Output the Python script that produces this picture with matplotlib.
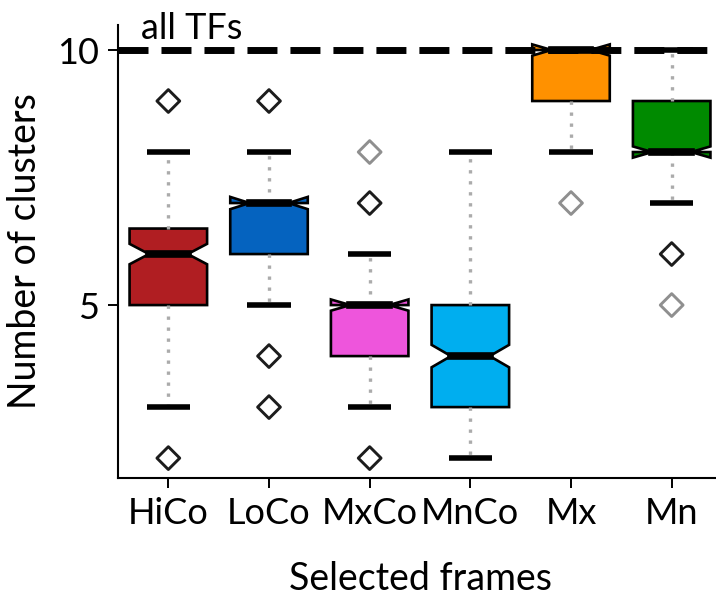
import matplotlib
matplotlib.use("Agg")
import matplotlib.pyplot as plt

plt.rcParams["font.family"] = ["Lato", "DejaVu Sans"]

# Summary statistics per frame selection
categories = ["HiCo", "LoCo", "MxCo", "MnCo", "Mx", "Mn"]
q1 = [5, 6, 4, 3, 9, 8]
medians = [6, 7, 5, 4, 10, 8]
q3 = [6.5, 7, 5, 5, 10, 9]
whisker_low = [3, 5, 3, 2, 8, 7]
whisker_high = [8, 8, 6, 8, 10, 10]
notch_low = [5.8, 6.88, 4.89, 3.78, 9.89, 7.89]
notch_high = [6.2, 7.12, 5.11, 4.22, 10.11, 8.11]
box_colors = ["#B01E22", "#0563BF", "#EE55DC", "#00AEEF", "#FF9100", "#008A00"]

# Outliers: (category index, value, edge colour)
outlier_group = [0, 0, 1, 1, 1, 2, 2, 2, 4, 5, 5]
outlier_value = [9, 2, 9, 4, 3, 8, 7, 2, 7, 6, 5]
outlier_color = ["#1c1c1c", "#1c1c1c", "#1c1c1c", "#1c1c1c", "#1c1c1c",
                 "#8f8f8f", "#1c1c1c", "#1c1c1c", "#8f8f8f", "#1c1c1c", "#8f8f8f"]

total_tfs = 10

fig = plt.figure(figsize=(7.16, 6.04), dpi=100)
ax = fig.add_axes([0.1648, 0.2086, 0.8436, 0.75])

stats = []
for i, name in enumerate(categories):
    stats.append(dict(label=name, q1=q1[i], med=medians[i], q3=q3[i],
                      whislo=whisker_low[i], whishi=whisker_high[i],
                      cilo=notch_low[i], cihi=notch_high[i], fliers=[]))

positions = list(range(1, len(categories) + 1))
bp = ax.bxp(stats, positions=positions, widths=0.77, capwidths=0.43,
            shownotches=True, patch_artist=True, showfliers=False,
            boxprops=dict(edgecolor="black", linewidth=1.9),
            medianprops=dict(color="black", linewidth=5.5,
                             solid_capstyle="projecting"),
            whiskerprops=dict(color="#ababab", linewidth=2.4,
                              linestyle=(0, (1, 2.3))),
            capprops=dict(color="black", linewidth=4.0,
                          solid_capstyle="butt"),
            manage_ticks=False)
for patch, c in zip(bp["boxes"], box_colors):
    patch.set_facecolor(c)
    patch.set_joinstyle("miter")

ax.scatter([positions[g] for g in outlier_group], outlier_value, marker="D",
           s=135, facecolors="none", edgecolors=outlier_color,
           linewidths=2.1, zorder=4)

# Reference line: all transcription factors
ax.hlines(total_tfs, 0.5, 6.35, colors="black", linewidth=5,
          linestyles=[(0, (4.32, 1.87))], zorder=5)
ax.text(0.73, total_tfs + 0.1, "all TFs", fontsize=26,
        ha="left", va="bottom")

ax.set_xlim(0.5, 6.5)
ax.set_ylim(1.61, 10.49)
ax.set_xticks(positions)
ax.set_xticklabels(categories, fontsize=26)
ax.set_yticks([5, 10])
ax.set_yticklabels(["5", "10"], fontsize=26)
ax.tick_params(axis="both", direction="out", length=7, width=1.4, pad=7)

for side in ("top", "right"):
    ax.spines[side].set_visible(False)
for side in ("left", "bottom"):
    ax.spines[side].set_linewidth(1.5)

ax.set_xlabel("Selected frames", fontsize=27, labelpad=22)
ax.set_ylabel("Number of clusters", fontsize=27, labelpad=10)

fig.savefig("out.png", dpi=100)
